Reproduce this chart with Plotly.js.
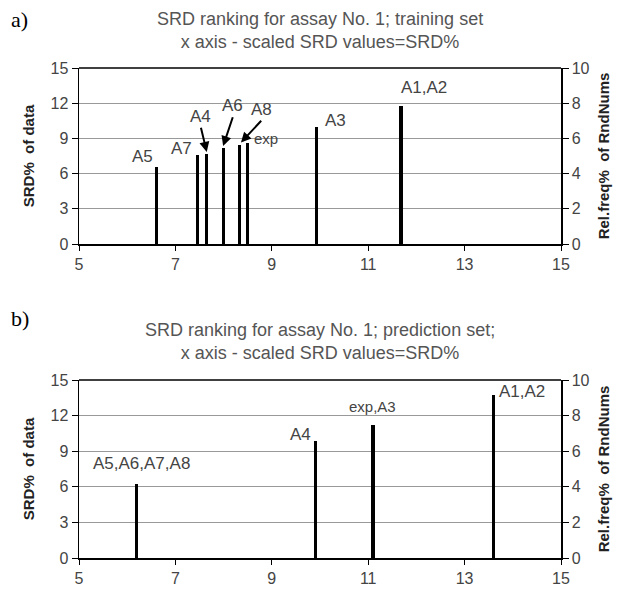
<!DOCTYPE html>
<html><head><meta charset="utf-8">
<script src="https://cdn.plot.ly/plotly-3.0.1.min.js"></script>
<style>html,body{margin:0;padding:0;background:#fff}#chart{width:618px;height:589px}</style>
</head><body><div id="chart"></div>
<script>
// Training set (a)
const trainNames = ["A5","A7","A4","A6","A8","exp","A3","A1,A2"];
const trainX     = [6.61, 7.45, 7.65, 7.99, 8.33, 8.50, 9.92, 11.68];
const trainY     = [6.6, 7.55, 7.7, 8.2, 8.45, 8.65, 10.0, 11.8];
// Prediction set (b)
const predNames = ["A5,A6,A7,A8","A4","exp,A3","A1,A2"];
const predX     = [6.2, 9.9, 11.1, 13.6];
const predY     = [6.2, 9.9, 11.2, 13.7];

const xTicks = [5,7,9,11,13,15];
const yTicks = [0,3,6,9,12,15];
const y2Ticks = [0,2,4,6,8,10];

const gray = "#444";
const sans = "Liberation Sans, Arial, sans-serif";
const tickFont = {family:sans, size:16, color:gray};
const xDom = [79/618, 561/618];
const topDom = [1-244/589, 1-68/589];
const botDom = [1-558/589, 1-380/589];

function xa(anchor){return {domain:xDom, anchor:anchor, range:[5,15], tickvals:xTicks, ticks:"outside", ticklen:5, tickcolor:"#000",
  showline:true, linecolor:"#000", linewidth:2, mirror:false, showgrid:false, zeroline:false, tickfont:tickFont, fixedrange:true};}
function ya(dom, anchor){return {domain:dom, anchor:anchor, range:[0,15], tickvals:yTicks, ticks:"outside", ticklen:6, tickcolor:"#000",
  showline:true, linecolor:"#000", linewidth:1.5, gridcolor:"#999", gridwidth:1.2, zeroline:false, tickfont:tickFont,
  title:{text:"<b>SRD%  of data</b>", font:{family:sans, size:15, color:"#222"}, standoff:12}};}
function y2a(over, anchor){return {overlaying:over, side:"right", anchor:anchor, range:[0,10], tickvals:y2Ticks, ticks:"outside", ticklen:6, tickcolor:"#000",
  showline:true, linecolor:"#000", linewidth:1.5, showgrid:false, zeroline:false, tickfont:tickFont,
  title:{text:"<b>Rel.freq%  of RndNums</b>", font:{family:sans, size:15, color:"#222"}, standoff:10}};}

const data = [
  {type:"bar", x:trainX, y:trainY, xaxis:"x", yaxis:"y", width:0.065, marker:{color:"#000", line:{width:0}}, hoverinfo:"skip"},
  {type:"scatter", x:[5], y:[0], xaxis:"x", yaxis:"y2", mode:"markers", marker:{opacity:0}, hoverinfo:"skip"},
  {type:"bar", x:predX, y:predY, xaxis:"x2", yaxis:"y3", width:0.065, marker:{color:"#000", line:{width:0}}, hoverinfo:"skip"},
  {type:"scatter", x:[5], y:[0], xaxis:"x2", yaxis:"y4", mode:"markers", marker:{opacity:0}, hoverinfo:"skip"}
];

const af = {family:sans, size:17, color:gray};
const afs = {family:sans, size:15, color:gray};
const annotations = [
  {xref:"paper", yref:"paper", x:9/618, y:1-20/589, text:"a)", showarrow:false, xanchor:"left", yanchor:"middle", font:{family:"Liberation Serif, Times New Roman, serif", size:22, color:"#000"}},
  {xref:"paper", yref:"paper", x:9/618, y:1-318/589, text:"b)", showarrow:false, xanchor:"left", yanchor:"middle", font:{family:"Liberation Serif, Times New Roman, serif", size:22, color:"#000"}},
  {xref:"paper", yref:"paper", x:320/618, y:1-31/589, text:"SRD ranking for assay No. 1; training set<br>x axis - scaled SRD values=SRD%", showarrow:false, xanchor:"center", yanchor:"middle", font:{family:sans, size:18, color:"#555"}},
  {xref:"paper", yref:"paper", x:320/618, y:1-341/589, text:"SRD ranking for assay No. 1; prediction set;<br>x axis - scaled SRD values=SRD%", showarrow:false, xanchor:"center", yanchor:"middle", font:{family:sans, size:18, color:"#555"}},
  // training labels
  {xref:"x", yref:"y", x:trainX[0]-0.3, y:7.5, text:trainNames[0], showarrow:false, font:af},
  {xref:"x", yref:"y", x:trainX[1]-0.32, y:8.1, text:trainNames[1], showarrow:false, font:af},
  {xref:"x", yref:"y", x:trainX[2], y:trainY[2]+0.15, ax:-0.12+trainX[2], ay:9.9, axref:"x", ayref:"y", text:trainNames[2], showarrow:true, arrowhead:2, arrowsize:1, arrowwidth:2, arrowcolor:"#000", font:af, yanchor:"bottom"},
  {xref:"x", yref:"y", x:trainX[3], y:trainY[3]+0.15, ax:trainX[3]+0.2, ay:10.8, axref:"x", ayref:"y", text:trainNames[3], showarrow:true, arrowhead:2, arrowsize:1, arrowwidth:2, arrowcolor:"#000", font:af, yanchor:"bottom"},
  {xref:"x", yref:"y", x:trainX[4]+0.03, y:trainY[4]+0.2, ax:trainX[4]+0.45, ay:10.5, axref:"x", ayref:"y", text:trainNames[4], showarrow:true, arrowhead:2, arrowsize:1, arrowwidth:2, arrowcolor:"#000", font:af, yanchor:"bottom"},
  {xref:"x", yref:"y", x:trainX[5]+0.08, y:9.0, text:trainNames[5], showarrow:false, xanchor:"left", font:afs},
  {xref:"x", yref:"y", x:trainX[6]+0.4, y:10.5, text:trainNames[6], showarrow:false, font:af},
  {xref:"x", yref:"y", x:trainX[7]-0.05, y:13.3, text:trainNames[7], showarrow:false, xanchor:"left", font:af},
  // prediction labels
  {xref:"x2", yref:"y3", x:predX[0]+0.1, y:8.0, text:predNames[0], showarrow:false, font:af},
  {xref:"x2", yref:"y3", x:predX[1]-0.3, y:10.4, text:predNames[1], showarrow:false, font:af},
  {xref:"x2", yref:"y3", x:predX[2]-0.02, y:12.8, text:predNames[2], showarrow:false, font:afs},
  {xref:"x2", yref:"y3", x:predX[3]+0.08, y:14.0, text:predNames[3], showarrow:false, xanchor:"left", font:af}
];

const shapes = [
  {type:"line", xref:"paper", yref:"paper", x0:xDom[0], x1:xDom[1], y0:topDom[1], y1:topDom[1], line:{color:"#000", width:1.5}},
  {type:"line", xref:"paper", yref:"paper", x0:xDom[0], x1:xDom[1], y0:botDom[1], y1:botDom[1], line:{color:"#000", width:1.5}}
];

const layout = {
  width:618, height:589, margin:{l:0,r:0,t:0,b:0}, paper_bgcolor:"#fff", plot_bgcolor:"#fff",
  showlegend:false, bargap:0,
  xaxis: xa("y"), yaxis: ya(topDom, "x"), yaxis2: y2a("y","x"),
  xaxis2: xa("y3"), yaxis3: ya(botDom, "x2"), yaxis4: y2a("y3","x2"),
  annotations: annotations, shapes: shapes
};

Plotly.newPlot("chart", data, layout, {displayModeBar:false, staticPlot:true});
</script></body></html>
